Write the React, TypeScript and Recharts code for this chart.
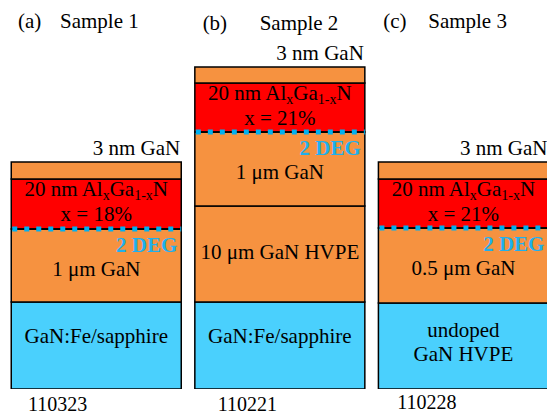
import React from 'react';
import { BarChart, Bar, XAxis, YAxis } from 'recharts';

// ---- data (layer thickness as drawn in the schematic, arbitrary units) ----
const samples = ['Sample 1', 'Sample 2', 'Sample 3'];
const panelTags = ['(a)', '(b)', '(c)'];
const sampleIds = ['110323', '110221', '110228'];

const substrate = [87, 87, 86];
const hvpeBuffer = [0, 96, 0];
const channel = [73, 74, 75];
const barrier = [50, 49, 49];
const cap = [17, 16, 17];

const substrateLabels = [['GaN:Fe/sapphire'], ['GaN:Fe/sapphire'], ['undoped', 'GaN HVPE']];
const bufferLabels = ['', '10 μm GaN HVPE', ''];
const channelLabels = ['1 μm GaN', '1 μm GaN', '0.5 μm GaN'];
const alFractions = ['x = 18%', 'x = 21%', 'x = 21%'];
const capLabels = ['3 nm GaN', '3 nm GaN', '3 nm GaN'];
const twoDegLabel = '2 DEG';

const data = samples.map((name, i) => ({
  name,
  substrate: substrate[i],
  buffer: hvpeBuffer[i],
  channel: channel[i],
  barrier: barrier[i],
  cap: cap[i],
}));

const FONT = "'Liberation Serif', 'Times New Roman', serif";
const ORANGE = '#F69240';
const RED = '#FF0000';
const BLUE = '#4AD0FD';
const CYAN = '#00B0F0';
const DEG_TEXT = '#1FB0EC';

const rect = (p: any) => (
  <rect x={p.x} y={p.y} width={p.width} height={p.height} fill={p.fill} stroke="#000" strokeWidth={1.5} />
);

const SubstrateShape = (p: any) => {
  const i = p.index;
  const lines = substrateLabels[i];
  const cx = p.x + p.width / 2;
  const base = lines.length === 1 ? p.y + 41 : p.y + 34;
  return (
    <g>
      {rect(p)}
      {lines.map((t, k) => (
        <text key={k} x={cx} y={base + k * 24} textAnchor="middle" fontSize={21} fontFamily={FONT} fill="#000">
          {t}
        </text>
      ))}
    </g>
  );
};

const BufferShape = (p: any) => {
  if (!p.height || p.height <= 0) return <g />;
  const i = p.index;
  const cx = p.x + p.width / 2;
  return (
    <g>
      {rect(p)}
      <text x={cx} y={p.y + 53} textAnchor="middle" fontSize={21} fontFamily={FONT} fill="#000">
        {bufferLabels[i]}
      </text>
    </g>
  );
};

const ChannelShape = (p: any) => {
  const i = p.index;
  const cx = p.x + p.width / 2;
  return (
    <g>
      {rect(p)}
      <text x={p.x + p.width - 4} y={p.y + 23} textAnchor="end" fontSize={21} fontWeight="bold" fontFamily={FONT} fill={DEG_TEXT}>
        {twoDegLabel}
      </text>
      <text x={cx} y={p.y + 47} textAnchor="middle" fontSize={21} fontFamily={FONT} fill="#000">
        {channelLabels[i]}
      </text>
    </g>
  );
};

const BarrierShape = (p: any) => {
  const i = p.index;
  const cx = p.x + p.width / 2;
  const yb = p.y + p.height;
  return (
    <g>
      {rect(p)}
      <text x={cx} y={p.y + 17} textAnchor="middle" fontSize={21} fontFamily={FONT} fill="#000">
        20 nm Al
        <tspan fontSize={14} dy={4}>x</tspan>
        <tspan dy={-4}>Ga</tspan>
        <tspan fontSize={14} dy={4}>1-x</tspan>
        <tspan dy={-4}>N</tspan>
      </text>
      <text x={cx} y={p.y + 41.5} textAnchor="middle" fontSize={21} fontFamily={FONT} fill="#000">
        {alFractions[i]}
      </text>
      <line x1={p.x} x2={p.x + p.width} y1={yb} y2={yb} stroke="#000" strokeWidth={1.5} />
      <line x1={p.x + 1} x2={p.x + p.width} y1={yb} y2={yb} stroke={CYAN} strokeWidth={5} strokeDasharray="5 7" />
    </g>
  );
};

const CapShape = (p: any) => {
  const i = p.index;
  return (
    <g>
      {rect(p)}
      <text x={p.x + p.width - 1} y={p.y - 7} textAnchor="end" fontSize={21} fontFamily={FONT} fill="#000">
        {capLabels[i]}
      </text>
    </g>
  );
};

const titleOffsets = [
  { tag: -78, name: -36, base: 28 },
  { tag: -77, name: -20, base: 30 },
  { tag: -80, name: -35, base: 28 },
];
const idOffsets = [
  { dx: -68, base: 411 },
  { dx: -62, base: 411 },
  { dx: -66, base: 409 },
];

const SampleTick = (props: any) => {
  const { x, payload } = props;
  const i = payload && payload.index != null ? payload.index : props.index;
  const t = titleOffsets[i];
  const d = idOffsets[i];
  return (
    <g>
      <text x={x + t.tag} y={t.base} fontSize={21} fontFamily={FONT} fill="#000">
        {panelTags[i]}
      </text>
      <text x={x + t.name} y={t.base} fontSize={21} fontFamily={FONT} fill="#000">
        {samples[i]}
      </text>
      <text x={x + d.dx} y={d.base} fontSize={20} fontFamily={FONT} fill="#000">
        {sampleIds[i]}
      </text>
    </g>
  );
};

export default function App() {
  return (
    <div style={{ position: 'absolute', left: 0, top: 0, width: 547, height: 414, overflow: 'hidden', background: '#fff' }}>
      <BarChart
        width={555}
        height={414}
        data={data}
        margin={{ top: 0, right: 0, bottom: 0, left: 4.25 }}
        barSize={170}
      >
        <XAxis dataKey="name" height={25} axisLine={false} tickLine={false} interval={0} tick={<SampleTick />} />
        <YAxis hide domain={[0, 389]} allowDataOverflow />
        <Bar dataKey="substrate" stackId="s" fill={BLUE} isAnimationActive={false} shape={<SubstrateShape />} />
        <Bar dataKey="buffer" stackId="s" fill={ORANGE} isAnimationActive={false} shape={<BufferShape />} />
        <Bar dataKey="channel" stackId="s" fill={ORANGE} isAnimationActive={false} shape={<ChannelShape />} />
        <Bar dataKey="barrier" stackId="s" fill={RED} isAnimationActive={false} shape={<BarrierShape />} />
        <Bar dataKey="cap" stackId="s" fill={ORANGE} isAnimationActive={false} shape={<CapShape />} />
      </BarChart>
    </div>
  );
}
